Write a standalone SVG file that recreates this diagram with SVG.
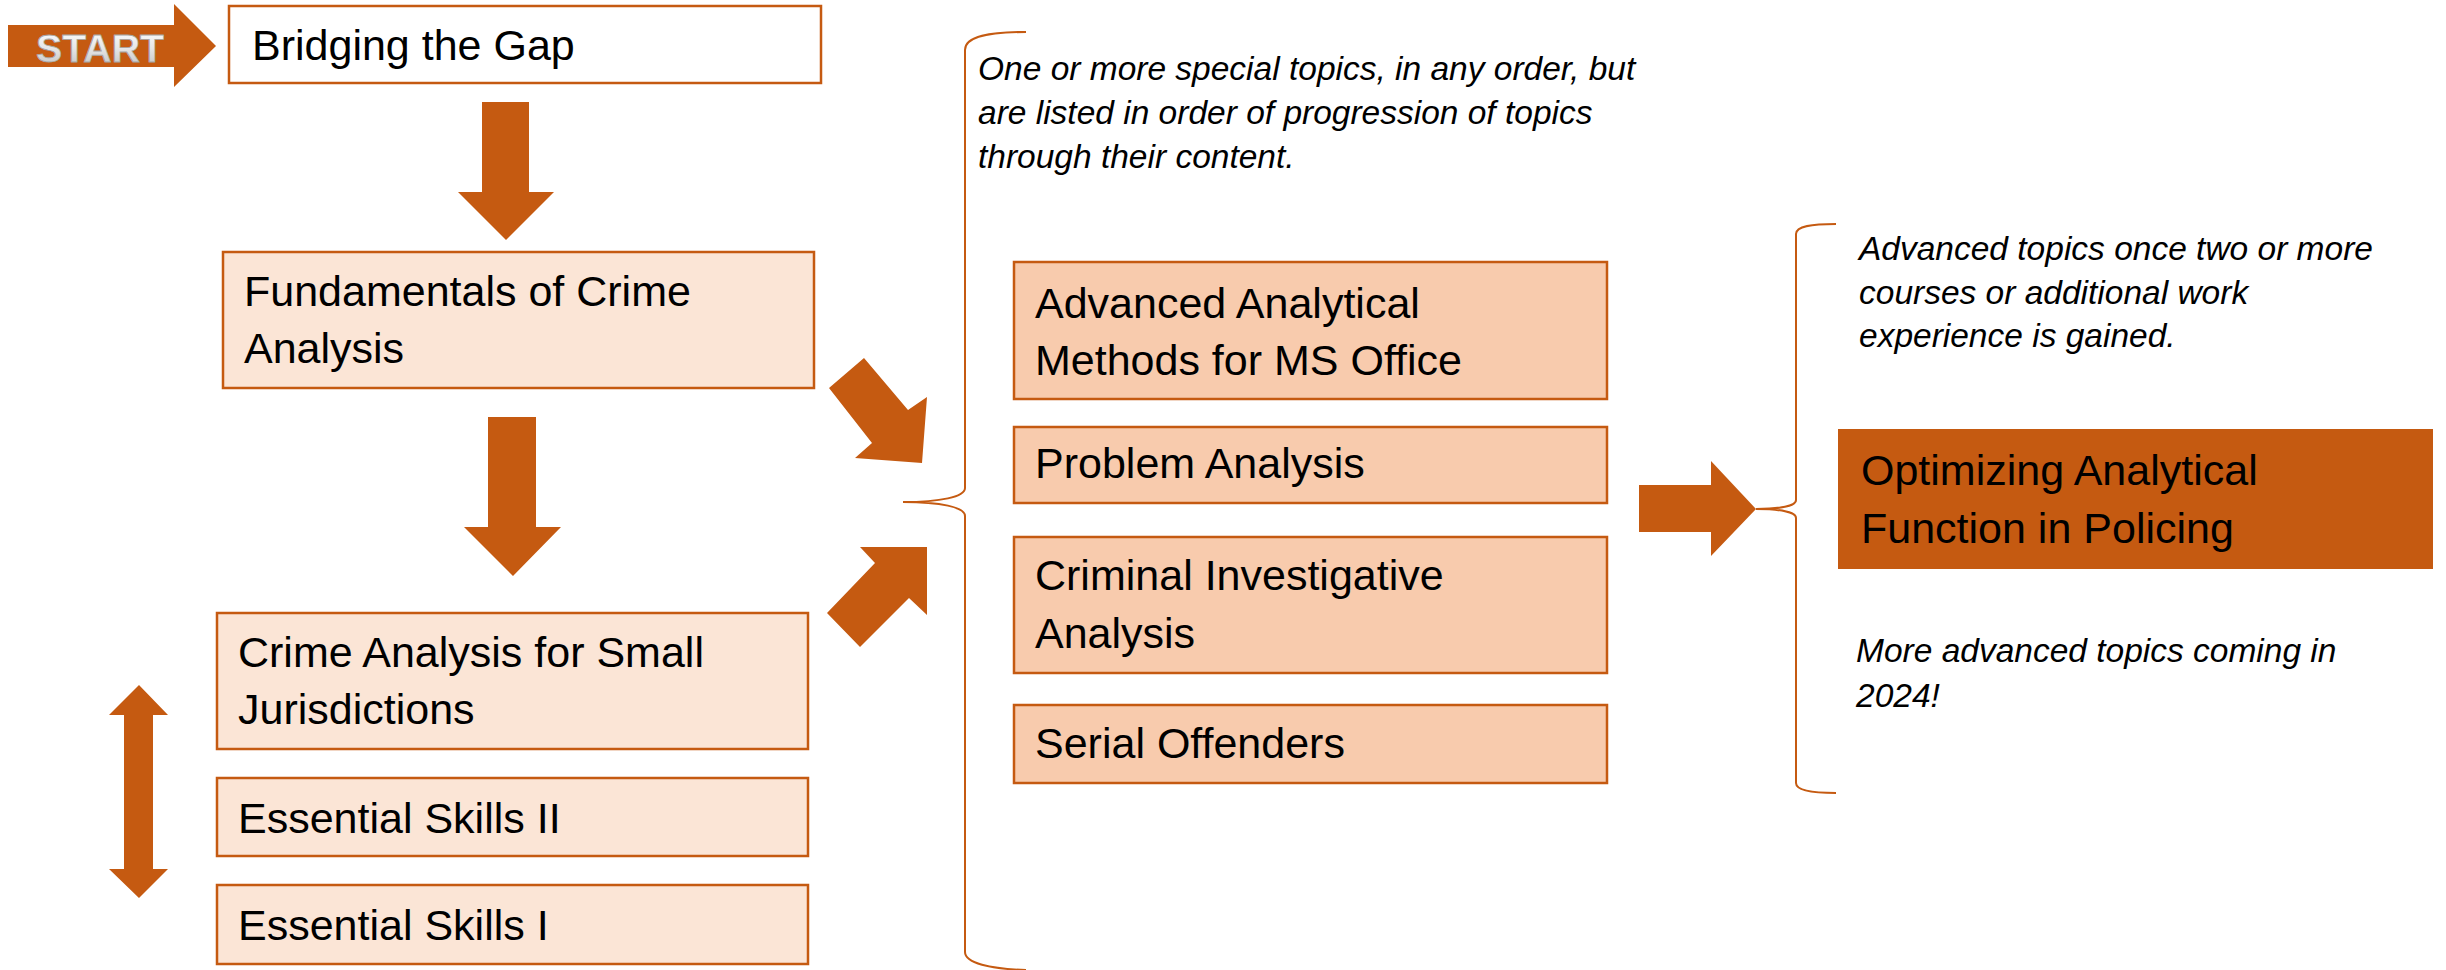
<svg xmlns="http://www.w3.org/2000/svg" width="2446" height="970" viewBox="0 0 2446 970">
  <defs>
    <linearGradient id="startGrad" x1="0" y1="0" x2="0" y2="1">
      <stop offset="0" stop-color="#FFFFFF"/>
      <stop offset="0.5" stop-color="#E6E6E6"/>
      <stop offset="1" stop-color="#BFBFBF"/>
    </linearGradient>
  </defs>
  <style>
    .arrow { fill: #C55A11; stroke: none; }
    .brace { fill: none; stroke: #C55A11; stroke-width: 2; }
    .box-white { fill: #FFFFFF; stroke: #C55A11; stroke-width: 2.5; }
    .box-light { fill: #FBE5D6; stroke: #C55A11; stroke-width: 2.5; }
    .box-mid { fill: #F8CBAD; stroke: #C55A11; stroke-width: 2.5; }
    .box-dark { fill: #C55A11; stroke: #C55A11; stroke-width: 2; }
    .label { font-family: "Liberation Sans", Arial, sans-serif; font-size: 43px; fill: #000000; }
    .note { font-family: "Liberation Sans", Arial, sans-serif; font-size: 33.5px; font-style: italic; fill: #000000; }
    .start { font-family: "Liberation Sans", Arial, sans-serif; font-size: 39px; font-weight: bold; fill: url(#startGrad); stroke: #A6A6A6; stroke-width: 0.8; }
  </style>
  <rect x="0" y="0" width="2446" height="970" fill="#FFFFFF"/>

  <g id="connectors">
    <!-- START arrow -->
    <polygon id="start-arrow" class="arrow" points="8,25 174,25 174,4 216,46 174,87 174,67 8,67"/>
    <!-- Bridging -> Fundamentals -->
    <polygon class="arrow" points="482,102 529,102 529,192 554,192 506,240 458,192 482,192"/>
    <!-- Fundamentals -> lower group -->
    <polygon class="arrow" points="488,417 536,417 536,527 561,527 513,576 464,527 488,527"/>
    <!-- double arrow -->
    <polygon class="arrow" points="139,685 168,715 153,715 153,869 168,869 139,898 109,869 124,869 124,715 109,715"/>
    <!-- diagonal down-right -->
    <polygon class="arrow" points="864,358 908,410 927,397 922,463 855,458 872,443 829,388"/>
    <!-- diagonal up-right -->
    <polygon class="arrow" points="875,563 860,547 927,547 927,615 909,598 860,647 827,613"/>
    <!-- right arrow -->
    <polygon class="arrow" points="1639,485 1711,485 1711,461 1756,509 1711,556 1711,532 1639,532"/>
  </g>

  <g id="braces">
    <path class="brace" d="M1026,32 C990,32 965,36 965,50 L965,488 C965,497 940,502 903,502 C940,502 965,507 965,516 L965,952 C965,963 990,969 1026,970"/>
    <path class="brace" d="M1836,224 C1812,224 1796,226 1796,234 L1796,500 C1796,506 1780,509 1756,509 C1780,509 1796,512 1796,518 L1796,783 C1796,790 1812,793 1836,793"/>
  </g>

  <g id="start-label">
    <text class="start" x="36" y="62" textLength="128" lengthAdjust="spacingAndGlyphs">START</text>
  </g>

  <g id="bridging-the-gap">
    <rect class="box-white" x="229" y="6" width="592" height="77"/>
    <text class="label" x="252" y="60">Bridging the Gap</text>
  </g>

  <g id="fundamentals">
    <rect class="box-light" x="223" y="252" width="591" height="136"/>
    <text class="label" x="244" y="306">Fundamentals of Crime</text>
    <text class="label" x="244" y="363">Analysis</text>
  </g>

  <g id="small-jurisdictions">
    <rect class="box-light" x="217" y="613" width="591" height="136"/>
    <text class="label" x="238" y="667">Crime Analysis for Small</text>
    <text class="label" x="238" y="724">Jurisdictions</text>
  </g>

  <g id="essential-skills-2">
    <rect class="box-light" x="217" y="778" width="591" height="78"/>
    <text class="label" x="238" y="833">Essential Skills II</text>
  </g>

  <g id="essential-skills-1">
    <rect class="box-light" x="217" y="885" width="591" height="79"/>
    <text class="label" x="238" y="940">Essential Skills I</text>
  </g>

  <g id="note-special-topics">
    <text class="note" x="978" y="80">One or more special topics, in any order, but</text>
    <text class="note" x="978" y="124">are listed in order of progression of topics</text>
    <text class="note" x="978" y="168">through their content.</text>
  </g>

  <g id="advanced-ms-office">
    <rect class="box-mid" x="1014" y="262" width="593" height="137"/>
    <text class="label" x="1035" y="318">Advanced Analytical</text>
    <text class="label" x="1035" y="375">Methods for MS Office</text>
  </g>

  <g id="problem-analysis">
    <rect class="box-mid" x="1014" y="427" width="593" height="76"/>
    <text class="label" x="1035" y="478">Problem Analysis</text>
  </g>

  <g id="criminal-investigative">
    <rect class="box-mid" x="1014" y="537" width="593" height="136"/>
    <text class="label" x="1035" y="590">Criminal Investigative</text>
    <text class="label" x="1035" y="648">Analysis</text>
  </g>

  <g id="serial-offenders">
    <rect class="box-mid" x="1014" y="705" width="593" height="78"/>
    <text class="label" x="1035" y="758">Serial Offenders</text>
  </g>

  <g id="note-advanced">
    <text class="note" x="1859" y="260">Advanced topics once two or more</text>
    <text class="note" x="1859" y="304">courses or additional work</text>
    <text class="note" x="1859" y="347">experience is gained.</text>
  </g>

  <g id="optimizing">
    <rect class="box-dark" x="1839" y="430" width="593" height="138"/>
    <text class="label" x="1861" y="485">Optimizing Analytical</text>
    <text class="label" x="1861" y="543">Function in Policing</text>
  </g>

  <g id="note-coming">
    <text class="note" x="1856" y="662">More advanced topics coming in</text>
    <text class="note" x="1856" y="707">2024!</text>
  </g>
</svg>
